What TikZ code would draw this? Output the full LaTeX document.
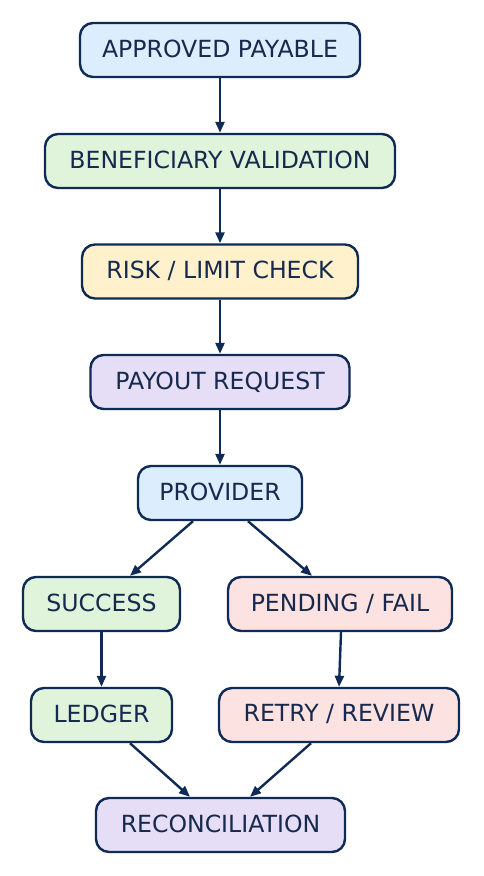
\documentclass[tikz,border=0pt]{standalone}
\usepackage{fontspec}
\setmainfont{DejaVu Sans}
\usetikzlibrary{arrows.meta}
\definecolor{edgec}{HTML}{0F2A55}
\definecolor{txtc}{HTML}{17294D}
\definecolor{fblue}{HTML}{DCEDFD}
\definecolor{fgreen}{HTML}{DFF4DB}
\definecolor{fyellow}{HTML}{FFF1CB}
\definecolor{fpurple}{HTML}{E5DEF6}
\definecolor{fpink}{HTML}{FCE2E0}
\tikzset{
  box/.style={draw=edgec, line width=2.4pt, rounded corners=13pt, minimum height=54pt,
    inner sep=0pt, text=txtc, text depth=3.5pt, font=\fontsize{23.6}{26}\selectfont},
  conn/.style={draw=edgec, line width=2.4pt, -{Triangle[length=11pt,width=9pt]}},
}
\begin{document}
\begin{tikzpicture}[x=1pt,y=-1pt]
\useasboundingbox (0,0) rectangle (483,876);
\node[box, fill=fblue, minimum width=280pt] (ap) at (220,50) {APPROVED PAYABLE};
\node[box, fill=fgreen, minimum width=350pt] (bv) at (220,161) {BENEFICIARY VALIDATION};
\node[box, fill=fyellow, minimum width=276pt] (rl) at (220,271.5) {RISK / LIMIT CHECK};
\node[box, fill=fpurple, minimum width=259pt] (pr) at (220,382) {PAYOUT REQUEST};
\node[box, fill=fblue, minimum width=164pt] (pv) at (220,493) {PROVIDER};
\node[box, fill=fgreen, minimum width=157pt] (sc) at (101.5,604) {SUCCESS};
\node[box, fill=fpink, minimum width=224pt] (pf) at (340,604) {PENDING / FAIL};
\node[box, fill=fgreen, minimum width=141pt] (ld) at (101.5,715) {LEDGER};
\node[box, fill=fpink, minimum width=240pt] (rr) at (339,715) {RETRY / REVIEW};
\node[box, fill=fpurple, minimum width=249pt] (rc) at (220.5,825) {RECONCILIATION};
\draw[conn] (ap.south) -- (bv.north);
\draw[conn] (bv.south) -- (rl.north);
\draw[conn] (rl.south) -- (pr.north);
\draw[conn] (pr.south) -- (pv.north);
\draw[conn] ([xshift=-27pt]pv.south) -- ([xshift=28.5pt]sc.north);
\draw[conn] ([xshift=28pt]pv.south) -- ([xshift=-28pt]pf.north);
\draw[conn] (sc.south) -- (ld.north);
\draw[conn] ([xshift=1pt]pf.south) -- (rr.north);
\draw[conn] ([xshift=28.5pt]ld.south) -- ([xshift=-30.5pt]rc.north);
\draw[conn] ([xshift=-28pt]rr.south) -- ([xshift=29.5pt]rc.north);
\end{tikzpicture}
\end{document}
